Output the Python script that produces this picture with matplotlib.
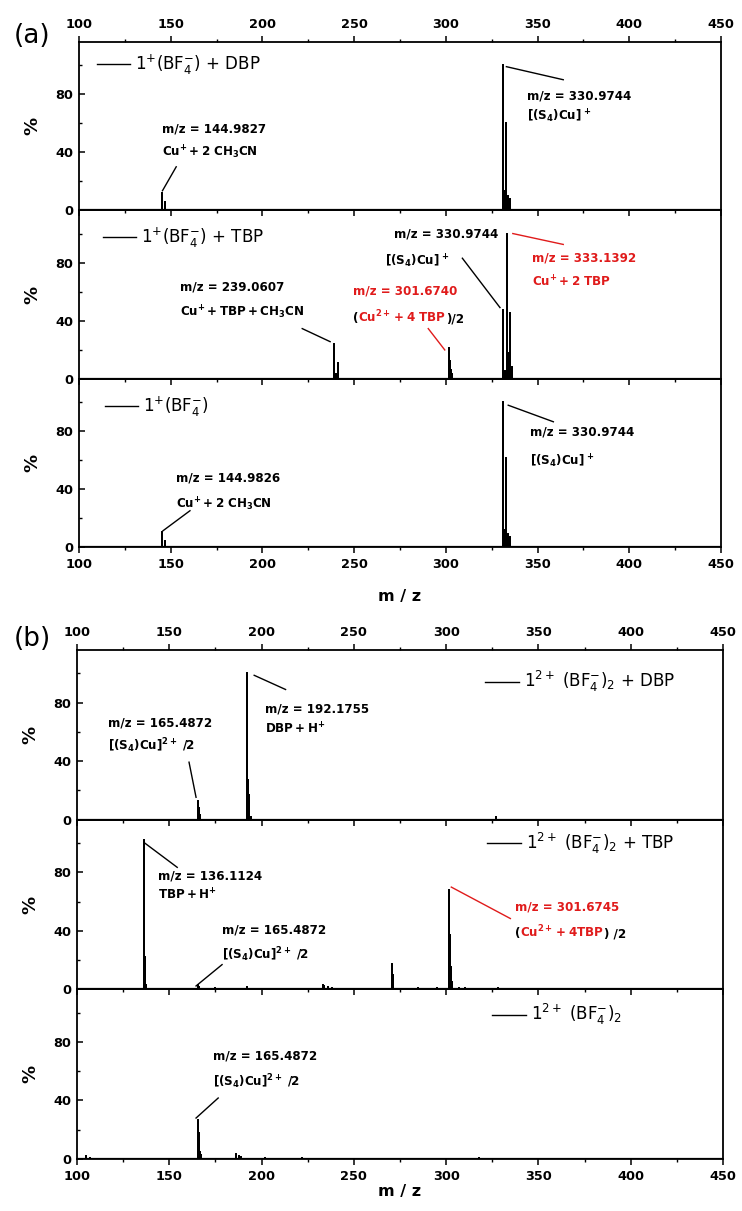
import numpy as np
import matplotlib
matplotlib.use('Agg')
import matplotlib.pyplot as plt
from matplotlib.ticker import MultipleLocator
from matplotlib.offsetbox import TextArea, HPacker, AnnotationBbox

plt.rcParams['mathtext.default'] = 'regular'

# ---- peak lists (m/z, relative intensity %) ----
a1_mz = [144.98, 146.98, 330.97, 331.97, 332.97, 333.97, 334.97]
a1_int = [12, 6, 100, 13, 60, 10, 8]

a2_mz = [239.06, 240.06, 241.06, 301.67, 302.17, 302.67, 303.17,
         330.97, 332.0, 333.14, 334.14, 335.14, 336.14]
a2_int = [24, 3, 11, 21, 12, 6, 3, 47, 5, 100, 18, 45, 8]

a3_mz = [144.98, 146.98, 330.97, 331.97, 332.97, 333.97, 334.97]
a3_int = [10, 4, 100, 12, 61, 9, 7]

b1_mz = [165.49, 165.99, 166.49, 192.18, 192.68, 193.18, 194.2, 327.0]
b1_int = [13, 8, 3, 100, 27, 17, 2, 1.5]

b2_mz = [136.11, 136.61, 137.11, 137.61, 165.49, 166.0, 175.0, 192.2,
         233.1, 234.0, 236.0, 238.0, 270.6, 271.1, 285.0, 295.0,
         301.67, 302.17, 302.67, 303.2, 307.0, 310.0, 328.0]
b2_int = [102, 22, 13, 3, 3, 1.5, 0.8, 1.5,
          3, 2, 1.5, 1, 17, 10, 0.8, 1,
          68, 37, 15, 5, 1, 0.8, 0.8]

b3_mz = [105.0, 107.0, 165.49, 165.99, 166.49, 167.0, 186.0, 188.0,
         189.0, 202.0, 222.0, 318.0]
b3_int = [2, 1, 27, 18, 5, 3, 3.5, 2, 1.5, 1, 0.8, 0.8]

a_labels = [r'$1^{+}(BF_{4}^{-})$ + DBP', r'$1^{+}(BF_{4}^{-})$ + TBP',
            r'$1^{+}(BF_{4}^{-})$']
b_labels = [r'$1^{2+}\ (BF_{4}^{-})_{2}$ + DBP', r'$1^{2+}\ (BF_{4}^{-})_{2}$ + TBP',
            r'$1^{2+}\ (BF_{4}^{-})_{2}$']

FS = 8.6      # annotation font
RED = '#e01b1b'
S4CU = r'$\mathbf{[(S_{4})Cu]^{\,+}}$'


def stick(mz, inten):
    x = np.repeat(np.asarray(mz, float), 3)
    y = np.zeros_like(x)
    y[1::3] = inten
    return x, y


def setup(ax, top=False, bottom=False):
    ax.set_xlim(100, 450)
    ax.set_ylim(0, 116)
    ax.xaxis.set_major_locator(MultipleLocator(50))
    ax.xaxis.set_minor_locator(MultipleLocator(25))
    ax.yaxis.set_major_locator(MultipleLocator(40))
    ax.yaxis.set_minor_locator(MultipleLocator(20))
    ax.tick_params(axis='y', which='both', direction='in', left=True, right=False)
    ax.tick_params(axis='x', which='both', direction='out', top=top, bottom=True,
                   labeltop=top, labelbottom=bottom)
    ax.tick_params(which='major', length=4, width=1.1, labelsize=9.3, pad=4)
    ax.tick_params(which='minor', length=2.5, width=1.0)
    for s in ax.spines.values():
        s.set_linewidth(1.3)
    ax.patch.set_visible(False)
    ax.set_ylabel('%', fontweight='bold', fontsize=13)
    ax.yaxis.set_label_coords(-0.058, 0.5)


def panel(ax, mz, inten, label, leg_xy, top=False, bottom=False):
    x, y = stick(mz, inten)
    ax.plot(x, y, color='k', lw=1.2, label=label)
    ax.axhline(0, color='k', lw=1.6)
    setup(ax, top, bottom)
    for lab in ax.get_xticklabels(which='both') + ax.get_yticklabels():
        lab.set_fontweight('bold')
    leg = ax.legend(loc='center left', bbox_to_anchor=leg_xy, frameon=False, fontsize=12,
                    borderpad=0, borderaxespad=0, handlelength=2.0, handletextpad=0.3)
    for h in leg.get_lines():
        h.set_linewidth(1.0)


def txt(ax, x, y, s, color='k'):
    ax.text(x, y, s, color=color, fontsize=FS, fontweight='bold', ha='left', va='center')


def lead(ax, p0, p1, color='k'):
    ax.plot([p0[0], p1[0]], [p0[1], p1[1]], color=color, lw=1.0)


def mixed(ax, x, y, parts):
    kids = [TextArea(s, textprops=dict(color=c, fontsize=FS, fontweight='bold'))
            for s, c in parts]
    box = HPacker(children=kids, align='baseline', pad=0, sep=0)
    ab = AnnotationBbox(box, (x, y), xycoords='data', box_alignment=(0, 0.5),
                        frameon=False, pad=0)
    ax.add_artist(ab)


fig = plt.figure(figsize=(7.42, 12.11), dpi=100)
H = 1211.0
W = 742.0

# group (a)
a_top, a_bot, a_l, a_r = 42, 547, 79, 721
ph = (a_bot - a_top) / 3
axa = [fig.add_axes([a_l / W, 1 - (a_top + (i + 1) * ph) / H, (a_r - a_l) / W, ph / H])
       for i in range(3)]
# group (b)
b_top, b_bot, b_l, b_r = 650, 1159, 77, 723
ph = (b_bot - b_top) / 3
axb = [fig.add_axes([b_l / W, 1 - (b_top + (i + 1) * ph) / H, (b_r - b_l) / W, ph / H])
       for i in range(3)]

panel(axa[0], a1_mz, a1_int, a_labels[0], (0.028, 0.866), top=True)
panel(axa[1], a2_mz, a2_int, a_labels[1], (0.037, 0.838))
panel(axa[2], a3_mz, a3_int, a_labels[2], (0.04, 0.833), bottom=True)
panel(axb[0], b1_mz, b1_int, b_labels[0], (0.632, 0.812), top=True)
panel(axb[1], b2_mz, b2_int, b_labels[1], (0.635, 0.862))
panel(axb[2], b3_mz, b3_int, b_labels[2], (0.643, 0.85), bottom=True)

for ax in (axa[2], axb[2]):
    ax.set_xlabel('m / z', fontweight='bold', fontsize=11.5)
axa[2].xaxis.set_label_coords(0.5, -0.25)
axb[2].xaxis.set_label_coords(0.5, -0.15)

fig.text(32 / W, 1 - 36 / H, '(a)', fontsize=19, ha='center', va='center')
fig.text(32 / W, 1 - 639 / H, '(b)', fontsize=19, ha='center', va='center')

# ---- annotations (a) ----
ax = axa[0]
lead(ax, (333, 99), (364, 90))
txt(ax, 344.5, 79, 'm/z = 330.9744')
txt(ax, 344.5, 65, S4CU)
lead(ax, (145.5, 13.5), (153, 30))
txt(ax, 145, 56, 'm/z = 144.9827')
txt(ax, 145, 40, r'$\mathbf{Cu^{+} + 2\ CH_{3}CN}$')

ax = axa[1]
txt(ax, 271.6, 100, 'm/z = 330.9744')
txt(ax, 267, 81, S4CU)
lead(ax, (309, 83), (329.5, 49))
lead(ax, (336.5, 100), (364, 92.5), RED)
txt(ax, 347, 83.4, 'm/z = 333.1392', RED)
txt(ax, 347, 66.4, r'$\mathbf{Cu^{+} + 2\ TBP}$', RED)
txt(ax, 155.3, 63, 'm/z = 239.0607')
txt(ax, 155.3, 46, r'$\mathbf{Cu^{+} + TBP + CH_{3}CN}$')
lead(ax, (221.7, 34.5), (236.9, 25.5))
txt(ax, 249.2, 60.7, 'm/z = 301.6740', RED)
mixed(ax, 249.2, 42.5, [('(', 'k'), (r'$\mathbf{Cu^{2+} + 4\ TBP}$', RED), (')/2', 'k')])
lead(ax, (290.4, 34.5), (299.4, 19.8), RED)

ax = axa[2]
lead(ax, (334, 97.7), (358.6, 86.3))
txt(ax, 345.7, 79.5, 'm/z = 330.9744')
txt(ax, 345.7, 59, S4CU)
txt(ax, 152.8, 47.6, 'm/z = 144.9826')
txt(ax, 152.8, 29.4, r'$\mathbf{Cu^{+} + 2\ CH_{3}CN}$')
lead(ax, (145.8, 11.2), (160.5, 25))

# ---- annotations (b) ----
ax = axb[0]
lead(ax, (196, 98.7), (213, 89))
txt(ax, 201.6, 75.9, 'm/z = 192.1755')
txt(ax, 201.6, 62.2, r'$\mathbf{DBP + H^{+}}$')
txt(ax, 117, 66, 'm/z = 165.4872')
txt(ax, 117, 50.7, r'$\mathbf{[(S_{4})Cu]^{2+}\ /2}$')
lead(ax, (160.7, 39.3), (164.5, 15.3))

ax = axb[1]
lead(ax, (136.4, 100.3), (154.3, 83.4))
txt(ax, 144, 77.7, 'm/z = 136.1124')
txt(ax, 144, 64.2, r'$\mathbf{TBP + H^{+}}$')
txt(ax, 178.6, 40.6, 'm/z = 165.4872')
txt(ax, 178.6, 23.7, r'$\mathbf{[(S_{4})Cu]^{2+}\ /2}$')
lead(ax, (164.5, 2.3), (178.6, 16.9))
lead(ax, (302.8, 69.9), (334.8, 48.4), RED)
txt(ax, 337.3, 56.3, 'm/z = 301.6745', RED)
mixed(ax, 337.3, 39.4, [('(', 'k'), (r'$\mathbf{Cu^{2+} + 4TBP}$', RED), (') /2', 'k')])

ax = axb[2]
txt(ax, 173.5, 70.2, 'm/z = 165.4872')
txt(ax, 173.5, 53, r'$\mathbf{[(S_{4})Cu]^{2+}\ /2}$')
lead(ax, (164.5, 28), (176.5, 41.7))

fig.savefig('out.png', dpi=100)
